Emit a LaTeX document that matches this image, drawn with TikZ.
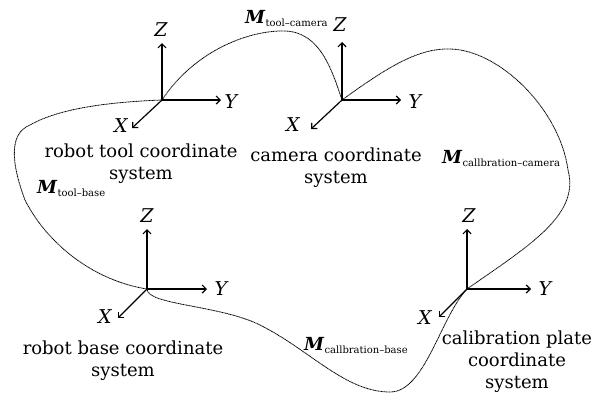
\documentclass[tikz,border=0pt]{standalone}
\usepackage{fontspec}
\setmainfont{DejaVu Serif}
\usetikzlibrary{arrows.meta}
\newcommand\Mlab[1]{\textbf{\textit{M}}\raisebox{-3pt}{\fontsize{10}{10}\selectfont #1}}
\begin{document}
\begin{tikzpicture}[x=1pt,y=-1pt,
  axis/.style={line width=1.2pt,-{Straight Barb[length=4pt,width=8pt,line width=1.2pt]}},
  axlbl/.style={font=\fontsize{19}{19}\selectfont\itshape, inner sep=0pt},
  lbl/.style={font=\fontsize{18}{22}\selectfont, align=center, inner sep=0pt},
  mlbl/.style={font=\fontsize{18}{18}\selectfont, inner sep=0pt, anchor=base west},
  chain/.style={line width=0.8pt, dash pattern=on 1.1pt off 0.5pt}]
\useasboundingbox (0,0) rectangle (608,394);
% robot tool frame
\coordinate (T) at (162,100);
\coordinate (Tz) at (162,43);
\coordinate (Ty) at (221,100);
\coordinate (Tx) at (132,128);
\draw[axis] (T) -- (Tz);
\draw[axis] (T) -- (Ty);
\draw[axis] (T) -- (Tx);
\node[axlbl] (TzL) at (161,30) {Z};
\node[axlbl] (TyL) at (231,102) {Y};
\node[axlbl] (TxL) at (121,126) {X};
% camera frame
\coordinate (C) at (342,100);
\coordinate (Cz) at (342,42);
\coordinate (Cy) at (401,100);
\coordinate (Cx) at (311,129);
\draw[axis] (C) -- (Cz);
\draw[axis] (C) -- (Cy);
\draw[axis] (C) -- (Cx);
\node[axlbl] (CzL) at (340,25) {Z};
\node[axlbl] (CyL) at (415,102) {Y};
\node[axlbl] (CxL) at (293,125) {X};
% robot base frame
\coordinate (B) at (147,289);
\coordinate (Bz) at (147,229);
\coordinate (By) at (207,289);
\coordinate (Bx) at (118,318);
\draw[axis] (B) -- (Bz);
\draw[axis] (B) -- (By);
\draw[axis] (B) -- (Bx);
\node[axlbl] (BzL) at (147,216) {Z};
\node[axlbl] (ByL) at (221,289) {Y};
\node[axlbl] (BxL) at (105,317) {X};
% calibration plate frame
\coordinate (P) at (467,289);
\coordinate (Pz) at (467,229);
\coordinate (Py) at (531,289);
\coordinate (Px) at (439,317);
\draw[axis] (P) -- (Pz);
\draw[axis] (P) -- (Py);
\draw[axis] (P) -- (Px);
\node[axlbl] (PzL) at (469,216) {Z};
\node[axlbl] (PyL) at (545,289) {Y};
\node[axlbl] (PxL) at (425,318) {X};
% transformation chain
\draw[chain] (T) .. controls (195,50) and (250,30) .. (285,31)
  .. controls (320,32) and (332,70) .. (C);
\draw[chain] (C) .. controls (390,65) and (420,48) .. (450,49)
  .. controls (500,50) and (560,110) .. (568,170)
  .. controls (580,215) and (530,245) .. (P);
\draw[chain] (P) .. controls (440,318) and (425,392) .. (390,392)
  .. controls (345,392) and (310,350) .. (260,325)
  .. controls (220,305) and (147,305) .. (B);
\draw[chain] (B) .. controls (90,280) and (45,240) .. (25,200)
  .. controls (10,160) and (10,133) .. (30,125)
  .. controls (60,108) and (110,102) .. (T);
% labels
\node[lbl] (Tlab) at (141,164) {robot tool coordinate\\system};
\node[lbl] (Clab) at (336,168) {camera coordinate\\system};
\node[lbl] (Blab) at (123,361) {robot base coordinate\\system};
\node[lbl] (Plab) at (517,362) {calibration plate\\coordinate\\system};
\node[mlbl] (M1) at (245,23) {\Mlab{tool--camera}};
\node[mlbl] (M2) at (37,193) {\Mlab{tool--base}};
\node[mlbl] (M3) at (442,163) {\Mlab{callbration--camera}};
\node[mlbl] (M4) at (304,350) {\Mlab{callbration--base}};
\end{tikzpicture}
\end{document}
